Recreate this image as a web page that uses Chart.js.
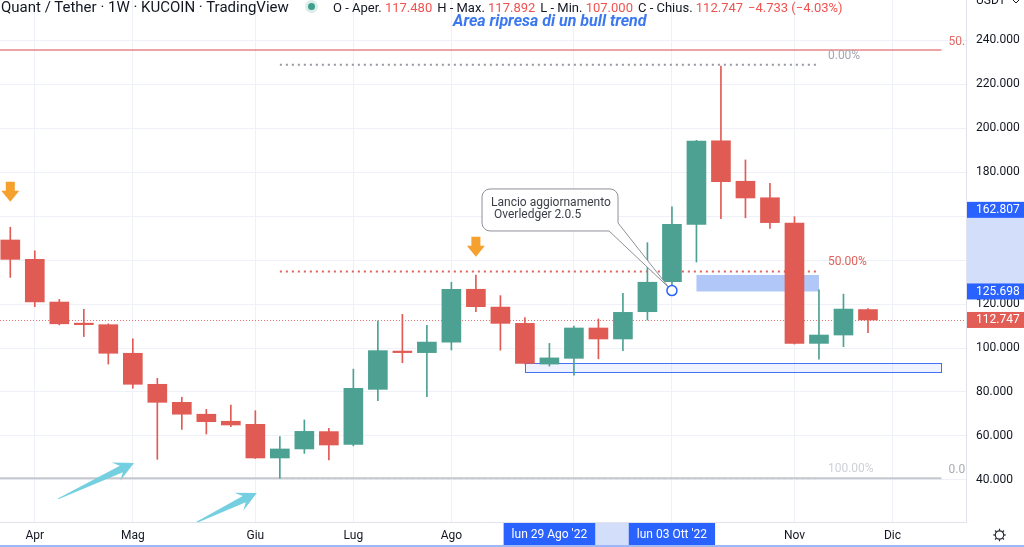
<!DOCTYPE html>
<html><head><meta charset="utf-8">
<script src="https://cdn.jsdelivr.net/npm/chart.js@4.4.0/dist/chart.umd.min.js"></script>
<style>
html,body{margin:0;padding:0;background:#fff;overflow:hidden;}
#wrap{position:relative;width:1024px;height:547px;}
#c{position:absolute;left:0;top:0;}
.t{position:absolute;white-space:nowrap;font-family:Roboto,sans-serif;}
#title{left:1px;top:-1px;font-size:15px;line-height:16px;color:#131722;}
#dot{position:absolute;left:308px;top:3px;width:7px;height:7px;border-radius:50%;background:#3f9e8c;box-shadow:0 0 0 3px rgba(63,158,140,0.18);}
#ohlc{left:333px;top:0px;font-size:13px;line-height:15px;color:#131722;}
#ohlc .r{color:#ef5350;margin-right:5px;}
#area{left:453px;top:11px;font-size:16px;font-weight:bold;font-style:italic;color:#3b78f0;}
</style></head>
<body>
<div id="wrap">
<canvas id="c" width="1024" height="547"></canvas>
<div id="title" class="t">Quant / Tether · 1W · KUCOIN · TradingView</div>
<div id="dot"></div>
<div id="ohlc" class="t">O - Aper. <span class="r">117.480</span>H - Max. <span class="r">117.892</span>L - Min. <span class="r">107.000</span>C - Chius. <span class="r">112.747</span><span class="r">−4.733 (−4.03%)</span></div>
<div id="area" class="t">Area ripresa di un bull trend</div>
</div>
<script>
// ---- data (weekly candles, QNT/USDT, from week of 28 Mar 2022) ----
const weeks = ['2022-03-28','2022-04-04','2022-04-11','2022-04-18','2022-04-25','2022-05-02','2022-05-09','2022-05-16','2022-05-23','2022-05-30','2022-06-06','2022-06-13','2022-06-20','2022-06-27','2022-07-04','2022-07-11','2022-07-18','2022-07-25','2022-08-01','2022-08-08','2022-08-15','2022-08-22','2022-08-29','2022-09-05','2022-09-12','2022-09-19','2022-09-26','2022-10-03','2022-10-10','2022-10-17','2022-10-24','2022-10-31','2022-11-07','2022-11-14','2022-11-21','2022-11-28'];
const open  = [149.1,140.3,120.9,111.3,110.6, 97.6, 83.5, 75.3, 69.9, 66.7, 65.3, 50.0, 54.1, 62.0, 56.2, 81.2, 98.6, 97.9,102.7,126.7,118.6,111.2, 92.7, 95.3,109.1,104.1,116.5,130.1,156.2,194.2,175.8,168.3,156.8,102.1,105.9,117.48];
const high  = [154.9,144.2,122.1,117.6,111.0,104.2, 86.2, 77.6, 72.1, 74.1, 71.5, 59.7, 67.3, 63.5, 90.4,112.4,115.3,110.3,129.9,133.2,123.8,113.8,102.1,110.0,113.2,124.8,147.9,164.2,194.4,228.2,185.5,174.9,159.7,126.4,124.5,117.892];
const low   = [132.1,118.8,110.5,105.2, 92.7, 81.7, 49.4, 63.0, 60.9, 64.2, 49.8, 40.8, 52.1, 49.1, 55.5, 76.0, 93.3, 77.9, 99.1,116.5, 99.0, 92.8, 91.8, 87.7, 95.1, 98.8,112.7,127.5,139.1,158.8,159.2,154.4,101.8, 94.9,100.6,107.0];
const close = [140.3,120.9,111.0,110.6, 97.6, 83.5, 75.3, 69.9, 66.5, 65.0, 50.0, 54.1, 62.1, 55.9, 81.7, 98.8, 97.9,102.7,126.7,118.8,111.2, 93.0, 95.5,109.1,104.1,116.2,129.9,156.2,194.1,175.6,168.2,157.0,102.1,105.9,117.7,112.747];
const monthTicks  = [1,5,10,14,18,23,27,32,36];
const monthLabels = ['Apr','Mag','Giu','Lug','Ago','Set','Ott','Nov','Dic'];
const priceTicks  = [40,60,80,100,120,140,160,180,200,220,240];
const lastPrice = 112.747;
const rangeHigh = 162.807, rangeLow = 125.698;
const rangeStartLabel = "lun 29 Ago '22", rangeEndLabel = "lun 03 Ott '22";
const rangeStartIdx = 22, rangeEndIdx = 27;
// fib retracement drawing
const fibFrom = 11, fibTo = 33;
const fibValues = [228.8, 134.8, 40.8];
const fibLabels = ['0.00%','50.00%','100.00%'];
// second (partly visible) fib
const fib2To = 38, fib2Values = [235.5, 40.8], fib2Labels = ['50.','0.0'];
// rectangles [x0, x1, yTop, yBottom]
const zoneFilled = [28, 33, 133.2, 125.7];
const zoneOutlined = [21, 38, 93.0, 88.9];
// callout
const calloutPoint = [27, 126.1];
const calloutBox = [19.25, 24.8, 172.3, 153.2];
const calloutText = ['Lancio aggiornamento', ' Overledger 2.0.5'];
// orange down arrows (tip positions)
const downArrows = [[0, 166.5], [19, 141.5]];
// cyan arrows [tailX, tailY, tipX, tipY]
const cyanArrows = [[1.95, 31.4, 5.05, 47.7], [7.54, 20.4, 10.06, 34.1]];

const UP = '#4da192', DOWN = '#e15b55';
const colors = open.map((o,i)=> close[i] >= o ? UP : DOWN);

const drawings = {
  id: 'drawings',
  beforeDatasetsDraw(chart) {
    const {ctx, chartArea: a, scales: {x, y}} = chart;
    ctx.save();
    ctx.beginPath(); ctx.rect(a.left, a.top, a.right - a.left, a.bottom - a.top); ctx.clip();
    // last price line
    let py = Math.round(y.getPixelForValue(lastPrice)) + 0.5;
    ctx.strokeStyle = '#e57373'; ctx.lineWidth = 1; ctx.setLineDash([1,2]);
    ctx.beginPath(); ctx.moveTo(a.left, py); ctx.lineTo(a.right, py); ctx.stroke();
    // second fib (solid)
    const f2x = x.getPixelForValue(fib2To);
    ctx.setLineDash([]);
    ctx.lineWidth = 2;
    ctx.strokeStyle = 'rgba(229,115,115,0.65)';
    let yy = y.getPixelForValue(fib2Values[0]);
    ctx.beginPath(); ctx.moveTo(a.left, yy); ctx.lineTo(f2x, yy); ctx.stroke();
    ctx.strokeStyle = '#c6c8cd';
    yy = y.getPixelForValue(fib2Values[1]);
    ctx.beginPath(); ctx.moveTo(a.left, yy); ctx.lineTo(f2x, yy); ctx.stroke();
    ctx.font = '12px Roboto'; ctx.textBaseline = 'middle'; ctx.textAlign = 'left';
    ctx.fillStyle = '#e06a64'; ctx.fillText(fib2Labels[0], f2x + 7, y.getPixelForValue(fib2Values[0]) - 8);
    ctx.fillStyle = '#a9abb2'; ctx.fillText(fib2Labels[1], f2x + 7, y.getPixelForValue(fib2Values[1]) - 8);
    // main fib
    const fx0 = x.getPixelForValue(fibFrom), fx1 = x.getPixelForValue(fibTo);
    const fibCol = ['#9598a1', '#e0625c', '#c9cbd0'];
    const fibLab = ['#a3a6ae', '#e0625c', '#cfd1d6'];
    fibValues.forEach((v, k) => {
      const yv = y.getPixelForValue(v);
      ctx.strokeStyle = fibCol[k]; ctx.lineWidth = 2; ctx.setLineDash([2, 4]);
      ctx.beginPath(); ctx.moveTo(fx0, yv); ctx.lineTo(fx1, yv); ctx.stroke();
      ctx.fillStyle = fibLab[k]; ctx.font = '12px Roboto';
      ctx.fillText(fibLabels[k], fx1 + 9, yv - 9);
    });
    ctx.setLineDash([]);
    // filled zone
    let [r0, r1, rt, rb] = zoneFilled;
    let X0 = x.getPixelForValue(r0), X1 = x.getPixelForValue(r1), Y0 = y.getPixelForValue(rt), Y1 = y.getPixelForValue(rb);
    ctx.fillStyle = 'rgba(80,130,240,0.45)';
    ctx.fillRect(X0, Y0, X1 - X0, Y1 - Y0);
    // outlined zone
    [r0, r1, rt, rb] = zoneOutlined;
    X0 = Math.round(x.getPixelForValue(r0)) + 0.5; X1 = Math.round(x.getPixelForValue(r1)) + 0.5;
    Y0 = Math.round(y.getPixelForValue(rt)) + 0.5; Y1 = Math.round(y.getPixelForValue(rb)) + 0.5;
    ctx.fillStyle = 'rgba(41,98,255,0.08)'; ctx.fillRect(X0, Y0, X1 - X0, Y1 - Y0);
    ctx.strokeStyle = '#3f73f5'; ctx.lineWidth = 1; ctx.strokeRect(X0, Y0, X1 - X0, Y1 - Y0);
    ctx.restore();
  },
  afterDatasetsDraw(chart) {
    const {ctx, chartArea: a, scales: {x, y}} = chart;
    ctx.save();
    ctx.beginPath(); ctx.rect(a.left, a.top, a.right - a.left, a.bottom - a.top); ctx.clip();
    // callout
    const bl = x.getPixelForValue(calloutBox[0]), br = x.getPixelForValue(calloutBox[1]);
    const bt = y.getPixelForValue(calloutBox[2]), bb = y.getPixelForValue(calloutBox[3]);
    const px = x.getPixelForValue(calloutPoint[0]), pyy = y.getPixelForValue(calloutPoint[1]);
    const r = 8;
    ctx.beginPath();
    ctx.moveTo(bl + r, bt);
    ctx.lineTo(br - r, bt); ctx.arcTo(br, bt, br, bt + r, r);
    ctx.lineTo(br, bb - 8);
    ctx.lineTo(px - 3, pyy - 3);
    ctx.lineTo(br - 9, bb);
    ctx.lineTo(bl + r, bb); ctx.arcTo(bl, bb, bl, bb - r, r);
    ctx.lineTo(bl, bt + r); ctx.arcTo(bl, bt, bl + r, bt, r);
    ctx.closePath();
    ctx.fillStyle = '#ffffff'; ctx.fill();
    ctx.strokeStyle = '#8d9099'; ctx.lineWidth = 1; ctx.stroke();
    ctx.fillStyle = '#3b3e47'; ctx.font = '12px Roboto'; ctx.textBaseline = 'middle'; ctx.textAlign = 'left';
    ctx.fillText(calloutText[0], bl + 9, bt + 14);
    ctx.fillText(calloutText[1], bl + 9, bt + 26);
    // anchor circle
    ctx.beginPath(); ctx.arc(px, pyy, 5, 0, Math.PI * 2);
    ctx.fillStyle = '#fff'; ctx.fill(); ctx.strokeStyle = '#2962ff'; ctx.lineWidth = 1.5; ctx.stroke();
    // orange arrows
    ctx.fillStyle = '#f6a02d';
    downArrows.forEach(([ix, v]) => {
      const tx = x.getPixelForValue(ix), ty = y.getPixelForValue(v);
      ctx.beginPath();
      ctx.moveTo(tx - 4.5, ty - 20); ctx.lineTo(tx + 4.5, ty - 20); ctx.lineTo(tx + 4.5, ty - 11);
      ctx.lineTo(tx + 9, ty - 11); ctx.lineTo(tx, ty); ctx.lineTo(tx - 9, ty - 11); ctx.lineTo(tx - 4.5, ty - 11);
      ctx.closePath(); ctx.fill();
    });
    // cyan arrows
    ctx.fillStyle = '#74cfe0';
    cyanArrows.forEach(([ax, ay, bx, by]) => {
      const x0 = x.getPixelForValue(ax), y0 = y.getPixelForValue(ay);
      const x1 = x.getPixelForValue(bx), y1 = y.getPixelForValue(by);
      const L = Math.hypot(x1 - x0, y1 - y0);
      const ux = (x1 - x0) / L, uy = (y1 - y0) / L, nx = -uy, ny = ux;
      const hl = 20, hw = 10, sw = 3.5, notch = 6;
      const hbx = x1 - ux * hl, hby = y1 - uy * hl;
      const sbx = x1 - ux * (hl - notch), sby = y1 - uy * (hl - notch);
      ctx.beginPath();
      ctx.moveTo(x0 + nx * 0.5, y0 + ny * 0.5);
      ctx.lineTo(sbx + nx * sw, sby + ny * sw);
      ctx.lineTo(hbx + nx * hw, hby + ny * hw);
      ctx.lineTo(x1, y1);
      ctx.lineTo(hbx - nx * hw, hby - ny * hw);
      ctx.lineTo(sbx - nx * sw, sby - ny * sw);
      ctx.lineTo(x0 - nx * 0.5, y0 - ny * 0.5);
      ctx.closePath(); ctx.fill();
    });
    ctx.restore();
  },
  afterDraw(chart) {
    const {ctx, chartArea: a, scales: {x, y}} = chart;
    const W = chart.width, H = chart.height;
    ctx.save();
    ctx.font = '12px Roboto'; ctx.textBaseline = 'middle'; ctx.textAlign = 'left';
    // y-axis range highlight
    const yh = y.getPixelForValue(rangeHigh), yl = y.getPixelForValue(rangeLow);
    ctx.fillStyle = '#d3defb'; ctx.fillRect(a.right + 1, yh, W - a.right, yl - yh);
    const box = (v, txt, col) => {
      const yy = y.getPixelForValue(v);
      ctx.fillStyle = col; ctx.fillRect(a.right + 1, yy - 8, W - a.right, 16);
      ctx.fillStyle = '#fff'; ctx.fillText(txt, a.right + 10, yy + 0.5);
    };
    box(rangeHigh, rangeHigh.toFixed(3), '#2962ff');
    box(rangeLow, rangeLow.toFixed(3), '#2962ff');
    box(lastPrice, lastPrice.toFixed(3), '#e35d57');
    // x-axis range highlight
    const xs = x.getPixelForValue(rangeStartIdx), xe = x.getPixelForValue(rangeEndIdx);
    ctx.fillStyle = '#d3defb'; ctx.fillRect(xs, a.bottom + 1, xe - xs, H - a.bottom - 1);
    ctx.textAlign = 'center';
    const xbox = (cx, txt) => {
      const w = ctx.measureText(txt).width + 16;
      ctx.fillStyle = '#2962ff'; ctx.fillRect(cx - w / 2, a.bottom + 1, w, H - a.bottom - 1);
      ctx.fillStyle = '#fff'; ctx.fillText(txt, cx, a.bottom + 13);
    };
    xbox(xs, rangeStartLabel);
    xbox(xe, rangeEndLabel);
    // currency label (cut at top)
    ctx.textAlign = 'left'; ctx.fillStyle = '#131722';
    ctx.fillText('USDT', a.right + 10, 1);
    ctx.strokeStyle = '#131722'; ctx.lineWidth = 1;
    ctx.beginPath(); ctx.moveTo(a.right + 47, 0); ctx.lineTo(a.right + 50, 3); ctx.lineTo(a.right + 53, 0); ctx.stroke();
    // gear icon
    const gx = 999.5, gy = 535;
    ctx.strokeStyle = '#2a2e39'; ctx.lineWidth = 1.2;
    ctx.beginPath(); ctx.arc(gx, gy, 4.2, 0, Math.PI * 2); ctx.stroke();
    for (let k = 0; k < 8; k++) {
      const an = k * Math.PI / 4;
      ctx.beginPath(); ctx.moveTo(gx + Math.cos(an) * 4.2, gy + Math.sin(an) * 4.2);
      ctx.lineTo(gx + Math.cos(an) * 6.3, gy + Math.sin(an) * 6.3); ctx.stroke();
    }
    // bottom accent line
    ctx.fillStyle = '#9bb7f6'; ctx.fillRect(0, H - 2, W, 2);
    ctx.restore();
  }
};

Chart.defaults.font.family = 'Roboto, sans-serif';
new Chart(document.getElementById('c'), {
  type: 'bar',
  data: {
    datasets: [
      { label: 'wick', data: weeks.map((w, i) => ({x: i, y: [low[i], high[i]]})),
        backgroundColor: colors, barThickness: 1, grouped: false, order: 2, borderWidth: 0 },
      { label: 'body', data: weeks.map((w, i) => ({x: i, y: [open[i], close[i]]})),
        backgroundColor: colors, barThickness: 19, grouped: false, order: 1, borderWidth: 0, minBarLength: 1 }
    ]
  },
  options: {
    responsive: false, animation: false, maintainAspectRatio: false,
    layout: { padding: 0 },
    plugins: { legend: { display: false }, tooltip: { enabled: false }, title: { display: false } },
    scales: {
      x: {
        type: 'linear', min: -0.42, max: 39.0, offset: false,
        grid: { color: '#eef1f7', drawTicks: false, offset: false },
        border: { color: '#e0e3eb' },
        afterBuildTicks: s => { s.ticks = monthTicks.map(v => ({ value: v })); },
        afterFit: s => { s.height = 25; s.paddingLeft = 0; s.paddingRight = 0; },
        ticks: { autoSkip: false, maxRotation: 0, padding: 7, color: '#131722', font: { size: 12 },
          callback: (v) => monthLabels[monthTicks.indexOf(v)] }
      },
      y: {
        position: 'right', min: 20.9, max: 258.2,
        grid: { color: '#eef1f7', drawTicks: false },
        border: { color: '#e0e3eb' },
        afterBuildTicks: s => { s.ticks = priceTicks.map(v => ({ value: v })); },
        afterFit: s => { s.width = 58; s.paddingTop = 0; s.paddingBottom = 0; },
        ticks: { padding: 10, color: '#131722', font: { size: 12 }, callback: v => Number(v).toFixed(3) }
      }
    }
  },
  plugins: [drawings]
});
</script>
</body></html>
